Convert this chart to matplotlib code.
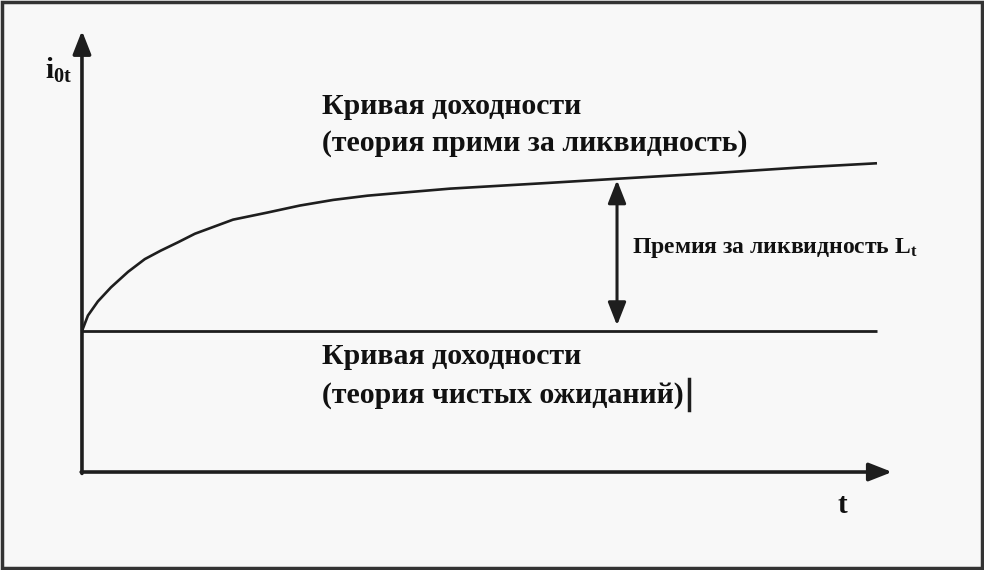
import matplotlib
matplotlib.use('Agg')
import matplotlib.pyplot as plt
from matplotlib.patches import Rectangle

# Кривая доходности с премией за ликвидность (точки)
t_curve = [0, 0.075, 0.2, 0.365, 0.58, 0.79, 0.99, 1.21, 1.42, 1.9, 2.33, 2.74,
           3.16, 3.59, 4.0, 4.63, 5.85, 6.73, 7.94, 9.03, 10.0]
i_curve = [1.0, 1.11, 1.21, 1.31, 1.42, 1.51, 1.57, 1.63, 1.69, 1.79, 1.84, 1.89,
           1.93, 1.96, 1.98, 2.01, 2.05, 2.08, 2.12, 2.16, 2.19]

# Кривая чистых ожиданий (горизонтальная)
t_flat = [0, 10.0]
i_flat = [1.0, 1.0]

# Стрелка премии за ликвидность
t_prem = 6.73
i_prem = [1.04, 2.07]

lc = '#1e1e1e'
bg = '#f8f8f8'

fig = plt.figure(figsize=(9.84, 5.70), dpi=100, facecolor=bg)
ax = fig.add_axes([0, 0, 1, 1])
ax.set_facecolor(bg)
ax.set_xlim(-1.031, 11.346)
ax.set_ylim(-0.695, 3.348)
ax.axis('off')

head = '-|>,head_length=1.4,head_width=0.55'

# Оси со стрелками
ax.annotate('', xy=(0, 3.13), xytext=(0, -0.01),
            arrowprops=dict(arrowstyle=head, color=lc, lw=2.6, shrinkA=0, shrinkB=0))
ax.annotate('', xy=(10.19, 0), xytext=(-0.01, 0),
            arrowprops=dict(arrowstyle=head, color=lc, lw=2.6, shrinkA=0, shrinkB=0))

ax.plot(t_curve, i_curve, color=lc, lw=1.9, solid_capstyle='butt', solid_joinstyle='round')
ax.plot(t_flat, i_flat, color=lc, lw=2.0, solid_capstyle='butt')

ax.annotate('', xy=(t_prem, i_prem[1]), xytext=(t_prem, i_prem[0]),
            arrowprops=dict(arrowstyle='<|-|>,head_length=1.4,head_width=0.55',
                            color=lc, lw=2.2, shrinkA=0, shrinkB=0))

serif = ['Liberation Serif', 'DejaVu Serif']
tk = dict(family=serif, fontweight='bold', color='#111111')

ax.text(3.02, 2.59, 'Кривая доходности', fontsize=21.5, va='center', ha='left', **tk)
ax.text(3.02, 2.33, '(теория прими за ликвидность)', fontsize=21.5, va='center', ha='left', **tk)
ax.text(3.02, 0.816, 'Кривая доходности', fontsize=21.5, va='center', ha='left', **tk)
ax.text(3.02, 0.546, '(теория чистых ожиданий)', fontsize=21.5, va='center', ha='left', **tk)
# курсор после текста
ax.plot([7.64, 7.64], [0.44, 0.66], color=lc, lw=2.5)

ax.text(6.92, 1.59, 'Премия за ликвидность $\\mathregular{L_t}$', fontsize=17,
        va='center', ha='left', **tk)
ax.text(-0.30, 2.85, '$\\mathregular{i_{0t}}$', fontsize=21, va='center', ha='center', **tk)
ax.text(9.57, -0.234, 't', fontsize=21, va='center', ha='center', **tk)

# рамка
fig.patches.append(Rectangle((0.002, 0.003), 0.996, 0.994, transform=fig.transFigure,
                             fill=False, edgecolor='#333333', lw=2.5))

fig.savefig('out.png', dpi=100, facecolor=bg)
